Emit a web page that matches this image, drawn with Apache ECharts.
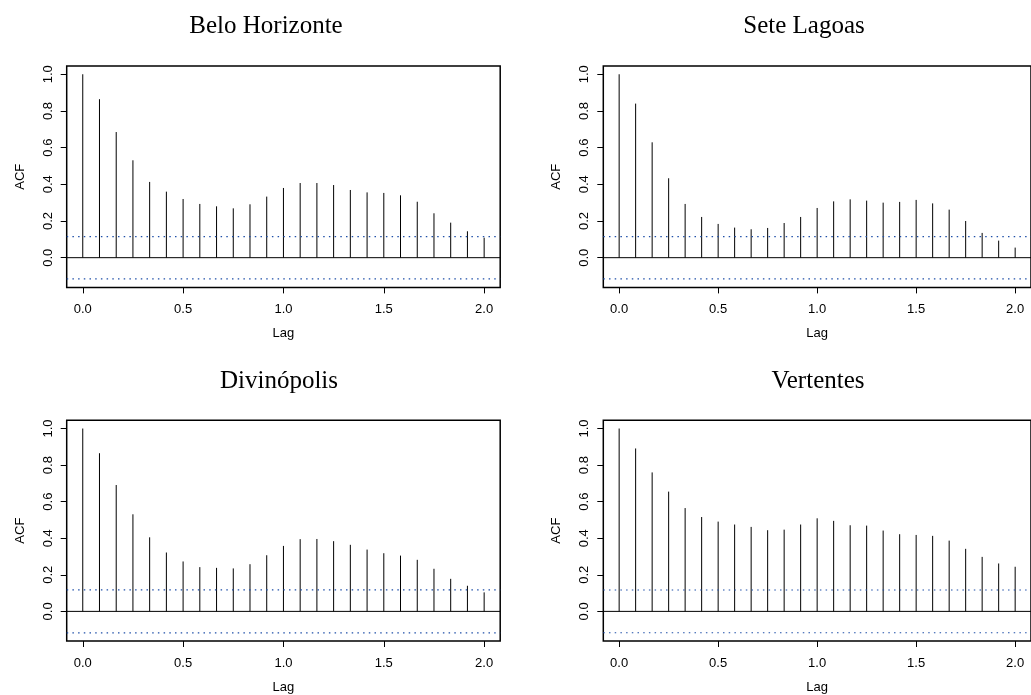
<!DOCTYPE html>
<html>
<head>
<meta charset="utf-8">
<script src="https://cdn.jsdelivr.net/npm/echarts@6/dist/echarts.min.js"></script>
<style>html,body{margin:0;padding:0;background:#fff}#c{width:1031px;height:695px}</style>
</head>
<body>
<div id="c"></div>
<script>
// Lags (years) 0..2 by month
const lags = [0, 0.0833, 0.1667, 0.25, 0.3333, 0.4167, 0.5, 0.5833, 0.6667, 0.75, 0.8333, 0.9167, 1,
  1.0833, 1.1667, 1.25, 1.3333, 1.4167, 1.5, 1.5833, 1.6667, 1.75, 1.8333, 1.9167, 2];

const titles = ['Belo Horizonte', 'Sete Lagoas', 'Divinópolis', 'Vertentes'];

const acfBeloHorizonte = [1.0, 0.864, 0.685, 0.531, 0.413, 0.36, 0.32, 0.293, 0.28, 0.269, 0.291, 0.333, 0.38,
  0.407, 0.407, 0.396, 0.369, 0.356, 0.353, 0.34, 0.305, 0.242, 0.191, 0.144, 0.109];
const acfSeteLagoas = [1.0, 0.84, 0.629, 0.433, 0.293, 0.222, 0.184, 0.164, 0.155, 0.162, 0.189, 0.222, 0.271,
  0.307, 0.318, 0.311, 0.3, 0.304, 0.315, 0.296, 0.262, 0.2, 0.135, 0.093, 0.055];
const acfDivinopolis = [1.0, 0.865, 0.691, 0.531, 0.405, 0.322, 0.273, 0.242, 0.238, 0.235, 0.258, 0.307, 0.358,
  0.395, 0.396, 0.384, 0.364, 0.338, 0.318, 0.305, 0.282, 0.233, 0.178, 0.14, 0.104];
const acfVertentes = [1.0, 0.891, 0.76, 0.655, 0.565, 0.516, 0.491, 0.475, 0.462, 0.444, 0.447, 0.475, 0.509,
  0.495, 0.471, 0.469, 0.442, 0.422, 0.418, 0.413, 0.387, 0.342, 0.298, 0.262, 0.244];

const ciLimits = [0.115, 0.115, 0.118, 0.117];

const yTicks = [0, 0.2, 0.4, 0.6, 0.8, 1.0];
const xTicks = [0, 0.5, 1.0, 1.5, 2.0];
const xRange = [-0.08, 2.08];
const yRange = [-0.162, 1.045];

const acfs = [acfBeloHorizonte, acfSeteLagoas, acfDivinopolis, acfVertentes];

// layout
const gridPos = [
  {left: 66.7, top: 66},
  {left: 603.3, top: 66},
  {left: 66.7, top: 420.3},
  {left: 603.3, top: 420.3}
];
const GW = 433.5, GH = 221.4;
const titlePos = [[266, 26], [804, 26], [279, 381], [818, 381]];

const axisFont = {fontFamily: 'Liberation Sans', fontSize: 13, color: '#000'};

const grids = [], xAxes = [], yAxes = [], series = [], graphics = [];
acfs.forEach((acf, i) => {
  grids.push({left: gridPos[i].left, top: gridPos[i].top, width: GW, height: GH,
    show: true, borderColor: '#000', borderWidth: 1.5, backgroundColor: 'transparent'});
  xAxes.push({
    type: 'value', gridIndex: i, min: xRange[0], max: xRange[1], position: 'bottom',
    axisLine: {show: false, onZero: false}, splitLine: {show: false},
    axisTick: {show: true, length: 6, customValues: xTicks, lineStyle: {color: '#000', width: 1}},
    axisLabel: Object.assign({customValues: xTicks, margin: 16, formatter: v => v.toFixed(1)}, axisFont),
    name: 'Lag', nameLocation: 'middle', nameGap: 40,
    nameTextStyle: axisFont
  });
  yAxes.push({
    type: 'value', gridIndex: i, min: yRange[0], max: yRange[1], position: 'left',
    axisLine: {show: false, onZero: false}, splitLine: {show: false},
    axisTick: {show: true, length: 6, customValues: yTicks, lineStyle: {color: '#000', width: 1}},
    axisLabel: Object.assign({customValues: yTicks, margin: 12, rotate: 90, formatter: v => v.toFixed(1)}, axisFont),
    name: 'ACF', nameLocation: 'middle', nameGap: 40, nameRotate: 90,
    nameTextStyle: axisFont
  });
  // zero line
  series.push({
    type: 'line', xAxisIndex: i, yAxisIndex: i, symbol: 'none', silent: true,
    data: [[xRange[0], 0], [xRange[1], 0]],
    lineStyle: {color: '#000', width: 1}
  });
  // confidence limits
  [ciLimits[i], -ciLimits[i]].forEach(c => {
    series.push({
      type: 'line', xAxisIndex: i, yAxisIndex: i, symbol: 'none', silent: true,
      data: [[xRange[0], c], [xRange[1], c]],
      lineStyle: {color: '#1f4fa8', width: 1.2, type: [1.5, 4.2]}
    });
  });
  // ACF spikes
  series.push({
    type: 'custom', xAxisIndex: i, yAxisIndex: i, silent: true,
    data: lags.map((l, k) => [l, acf[k]]),
    encode: {x: 0, y: 1},
    renderItem: (params, api) => {
      const p0 = api.coord([api.value(0), 0]);
      const p1 = api.coord([api.value(0), api.value(1)]);
      return {type: 'line', shape: {x1: p0[0], y1: p0[1], x2: p1[0], y2: p1[1]},
        style: {stroke: '#000', lineWidth: 1}};
    }
  });
  graphics.push({
    type: 'text', x: titlePos[i][0], y: titlePos[i][1],
    style: {text: titles[i], fontFamily: 'Liberation Serif', fontSize: 25, fill: '#000',
      textAlign: 'center', textVerticalAlign: 'middle'}
  });
});

const chart = echarts.init(document.getElementById('c'), null, {renderer: 'canvas'});
chart.setOption({
  animation: false,
  backgroundColor: '#fff',
  grid: grids, xAxis: xAxes, yAxis: yAxes, series: series, graphic: graphics
});
</script>
</body>
</html>
